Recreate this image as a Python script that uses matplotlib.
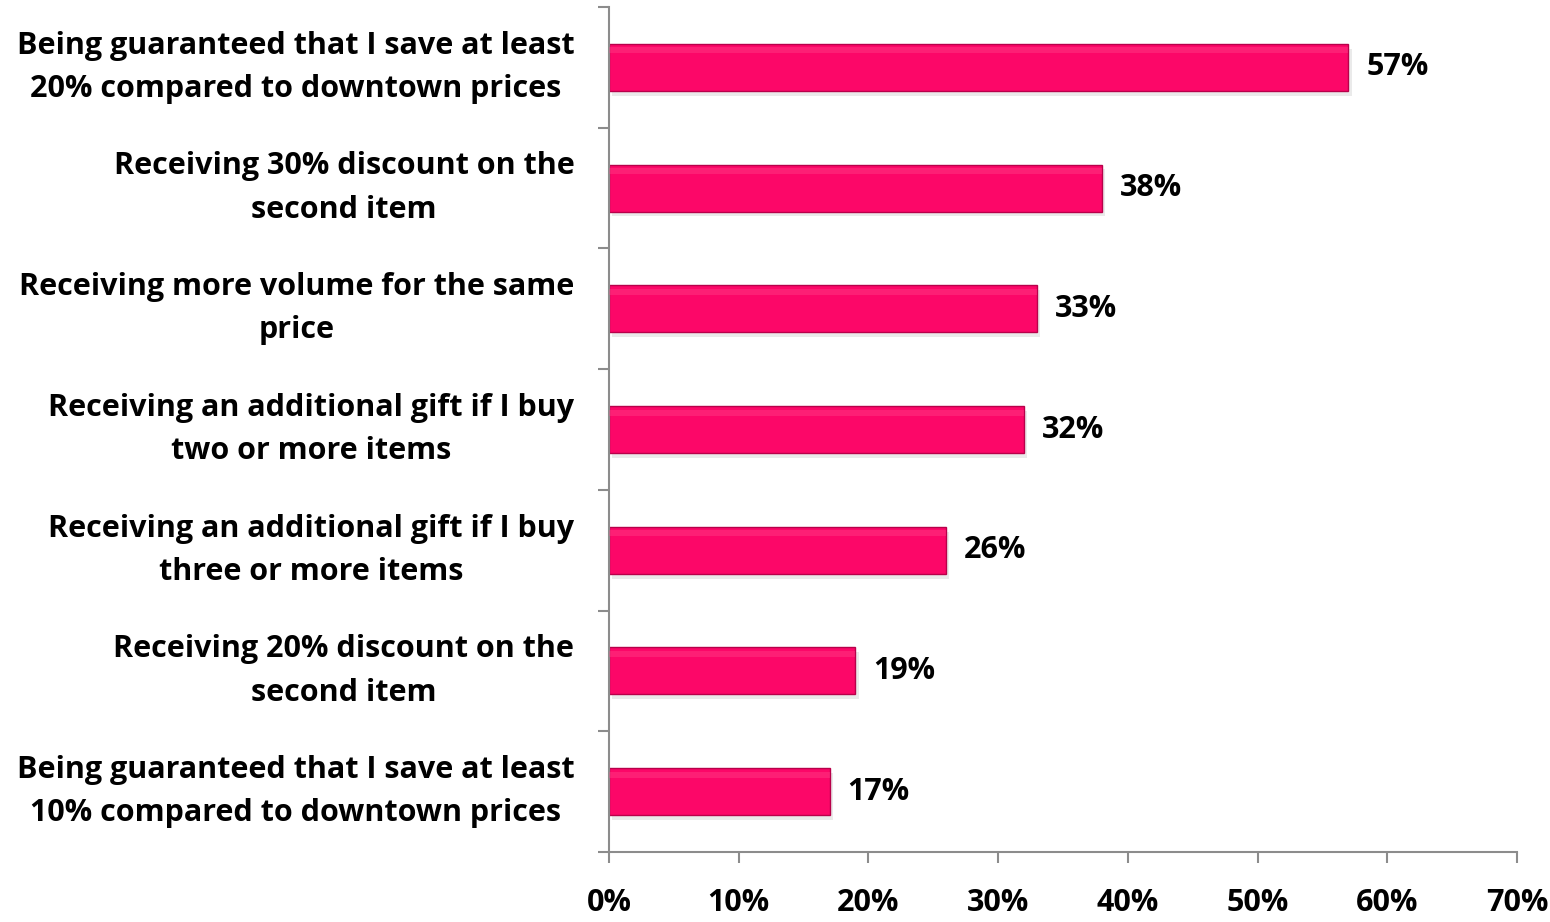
import numpy as np
import matplotlib.pyplot as plt

# Datos
categorias = [
    'Being guaranteed that I save at least\n20% compared to downtown prices',
    'Receiving 30% discount on the\nsecond item',
    'Receiving more volume for the same\nprice',
    'Receiving an additional gift if I buy\ntwo or more items',
    'Receiving an additional gift if I buy\nthree or more items',
    'Receiving 20% discount on the\nsecond item',
    'Being guaranteed that I save at least\n10% compared to downtown prices',
]
valores = [57, 38, 33, 32, 26, 19, 17]
ticks_x = [0, 10, 20, 30, 40, 50, 60, 70]

plt.rcParams['font.family'] = ['Open Sans', 'DejaVu Sans']

fig = plt.figure(figsize=(15.5, 9.22), dpi=100)
ax = fig.add_axes([0.3929, 0.0759, 0.5858, 0.9165])

y = np.arange(len(valores))[::-1]
gris = '#8c8c8c'
fs = 22

# Sombra y barras
ax.barh(y - 0.04, valores, height=0.39, left=0.25, color='#dcdcdc', alpha=0.6, zorder=1)
ax.barh(y, valores, height=0.39, color='#fc0768', edgecolor='#b8004a', linewidth=1.0, zorder=2)
# Brillo superior
ax.barh(y + 0.14, valores, height=0.05, color='#ff4d90', alpha=0.35, linewidth=0, zorder=3)

for yi, v in zip(y, valores):
    ax.annotate(f'{v}%', (v, yi), xytext=(13, 0), textcoords='offset points',
                ha='left', va='center', fontsize=fs, fontweight='bold')

ax.set_xlim(0, 70)
ax.set_ylim(-0.5, len(valores) - 0.5)
ax.set_xticks(ticks_x)
ax.set_xticklabels([f'{t}%' for t in ticks_x], fontsize=fs, fontweight='bold')
ax.set_yticks(np.arange(-0.5, len(valores), 1.0))
ax.set_yticklabels([])
ax.set_yticks(y, minor=True)
ax.set_yticklabels(categorias, minor=True, fontsize=fs, fontweight='bold',
                   ha='right', va='center', multialignment='center', linespacing=1.58)

ax.tick_params(axis='y', which='major', length=8, color=gris, width=1.5)
ax.tick_params(axis='y', which='minor', length=0, pad=25)
ax.tick_params(axis='x', length=8, color=gris, width=1.5, pad=18)

for s in ['top', 'right']:
    ax.spines[s].set_visible(False)
for s in ['left', 'bottom']:
    ax.spines[s].set_color(gris)
    ax.spines[s].set_linewidth(1.5)

fig.savefig('out.png', dpi=100)
